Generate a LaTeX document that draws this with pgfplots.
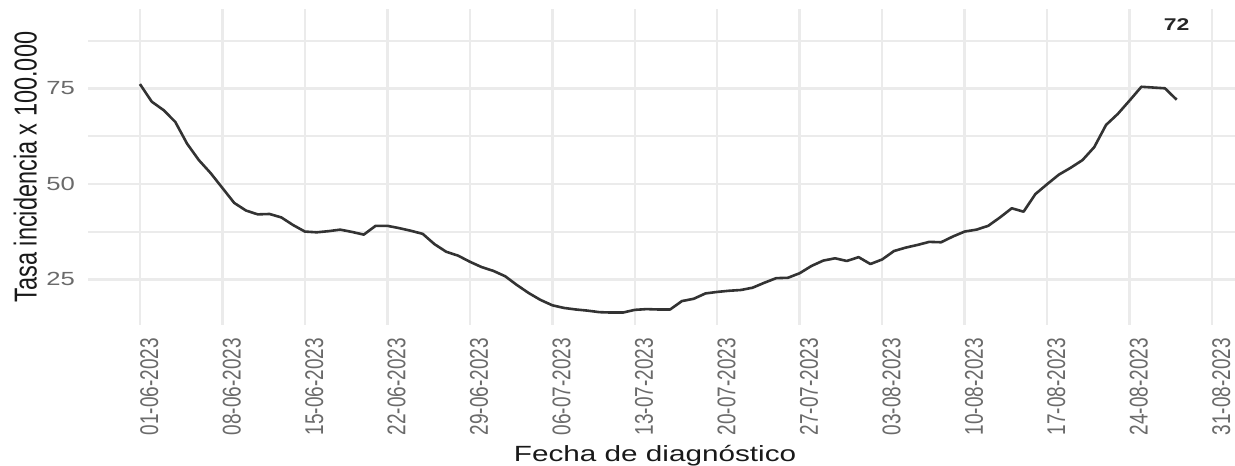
\documentclass[border=0pt]{standalone}
\usepackage{pgfplots}
\pgfplotsset{compat=1.18}
\usepackage{pgfplotstable}
\usepackage{fontspec}
\setmainfont{Liberation Sans}
\usepackage{graphicx}
\definecolor{gridc}{HTML}{EBEBEB}
\definecolor{tickc}{HTML}{6A6A6A}
\definecolor{linec}{HTML}{333333}
\newcommand{\hs}[1]{\scalebox{1.35}[1]{#1}}
\newcommand{\vs}[1]{\scalebox{1}[1.35]{#1}}

\pgfplotstableread{
day val
0 76.1
1 71.5
2 69.3
3 66.2
4 60.5
5 56.2
6 52.8
7 48.9
8 45.0
9 43.0
10 42.0
11 42.1
12 41.2
13 39.2
14 37.5
15 37.3
16 37.6
17 38.0
18 37.4
19 36.7
20 39.0
21 39.0
22 38.4
23 37.7
24 36.9
25 34.2
26 32.2
27 31.2
28 29.6
29 28.2
30 27.2
31 25.8
32 23.5
33 21.4
34 19.6
35 18.2
36 17.5
37 17.1
38 16.8
39 16.4
40 16.3
41 16.3
42 17.0
43 17.2
44 17.1
45 17.1
46 19.3
47 19.9
48 21.3
49 21.7
50 22.0
51 22.2
52 22.8
53 24.1
54 25.3
55 25.4
56 26.6
57 28.5
58 29.9
59 30.5
60 29.8
61 30.8
62 29.0
63 30.2
64 32.4
65 33.3
66 34.0
67 34.8
68 34.7
69 36.2
70 37.5
71 38.0
72 39.0
73 41.2
74 43.6
75 42.7
76 47.3
77 49.9
78 52.4
79 54.2
80 56.2
81 59.6
82 65.4
83 68.3
84 71.8
85 75.4
86 75.2
87 75.0
88 72.0
}\datatable

\begin{document}
\begin{tikzpicture}[x=1pt,y=1pt]
\begin{axis}[
  at={(88pt,141pt)}, anchor=south west,
  scale only axis, width=1147pt, height=316pt,
  xmin=-4.41, xmax=92.95, ymin=13.04, ymax=95.76,
  axis line style={draw=none},
  major tick length=0pt, minor tick length=0pt,
  xtick={0,7,14,21,28,35,42,49,56,63,70,77,84,91},
  xticklabels={\vs{01-06-2023},\vs{08-06-2023},\vs{15-06-2023},\vs{22-06-2023},\vs{29-06-2023},\vs{06-07-2023},\vs{13-07-2023},\vs{20-07-2023},\vs{27-07-2023},\vs{03-08-2023},\vs{10-08-2023},\vs{17-08-2023},\vs{24-08-2023},\vs{31-08-2023}},
  ytick={25,50,75}, yticklabels={\hs{25},\hs{50},\hs{75}},
  minor ytick={37.5,62.5,87.5},
  xmajorgrids, ymajorgrids, yminorgrids,
  major grid style={gridc, line width=2.5pt},
  minor grid style={gridc, line width=2pt},
  tick label style={font=\fontsize{19}{22}\selectfont, text=tickc},
  xticklabel style={rotate=90, anchor=north east, inner xsep=13pt, inner ysep=0pt},
  yticklabel style={anchor=east, inner sep=0pt, xshift=-13pt},
  xlabel={\hs{Fecha de diagnóstico}},
  xlabel style={at={(axis description cs:0.4944,-0.4326)}, anchor=base, font=\fontsize{22}{26}\selectfont, text=black!90},
  ylabel={\vs{Tasa incidencia x 100.000}},
  ylabel style={at={(axis description cs:-0.0546,0.5)}, anchor=center, font=\fontsize{23.5}{27}\selectfont, text=black!90},
]
\addplot[linec, line width=2.6pt, line join=round, no markers] table[x=day, y=val] {\datatable};
\node[font=\fontsize{17}{20}\selectfont\bfseries, text=black!85] at (axis cs:88,91.6) {\hs{72}};
\end{axis}
\pgfresetboundingbox
\useasboundingbox (0,0) rectangle (1235,466);
\end{tikzpicture}
\end{document}
